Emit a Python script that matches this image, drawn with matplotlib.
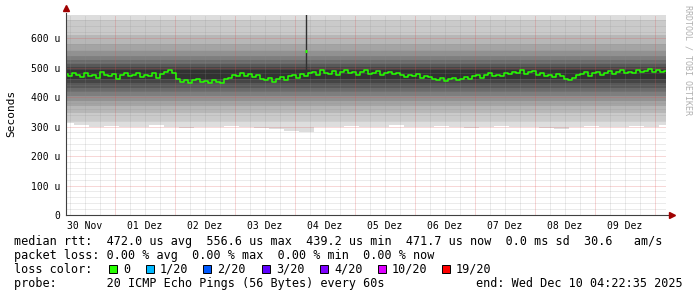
import numpy as np
import matplotlib
matplotlib.use("Agg")
import matplotlib.pyplot as plt
from matplotlib.patches import Rectangle
from datetime import datetime

# ---------------- data ----------------
start = datetime(2025, 11, 30, 4, 22, 35)
end = datetime(2025, 12, 10, 4, 22, 35)
first_midnight = datetime(2025, 12, 1, 0, 0, 0)

day_labels = ["30 Nov", "01 Dez", "02 Dez", "03 Dez", "04 Dez",
              "05 Dez", "06 Dez", "07 Dez", "08 Dez", "09 Dez"]

y_tick_values = [0, 100, 200, 300, 400, 500, 600]
y_tick_labels = ["0", "100 u", "200 u", "300 u", "400 u", "500 u", "600 u"]

# median rtt (microseconds), one sample every 1.6 h
median_step_h = 1.6
median_us = [
    478, 470, 482, 474, 468, 480, 472, 476, 466, 484, 474, 470, 478, 462, 476,
    480, 470, 474, 482, 468, 476, 472, 480, 466, 478,
    486, 490, 482,
    462, 452, 458, 448, 456, 462, 450, 454, 446, 458, 452, 448, 460,
    466, 474, 470, 480, 472, 478, 468, 476,
    462, 456, 466, 452, 460, 468, 458, 470,
    474, 466, 478, 470,
    480, 486, 476, 490, 482, 478, 488, 474, 484, 492, 480, 486, 476, 484, 490,
    478, 482, 488, 474, 480, 486, 478, 482,
    476, 468, 474, 470, 478, 466, 472, 468,
    462, 458, 466, 454, 460, 464, 456, 462, 468, 460,
    470, 476, 466, 474, 480, 470, 476, 472, 482, 478,
    486, 480, 490, 478, 484, 488, 476,
    480, 472, 476, 468, 478, 470, 462, 458, 466, 474,
    478, 484, 472, 480, 486, 476, 482, 488, 478, 484, 490, 480, 486, 482, 492,
    484, 488, 494, 486, 490, 484, 488,
]

# smoke: lowest ping per 6 h, and typical ping levels (ranks) above / below
smoke_step_h = 6
smoke_min_us = [312, 305, 300, 302, 298, 300, 304, 300, 296, 300, 298, 302, 300,
                296, 292, 286, 280, 298, 300, 302, 298, 300, 304, 300, 298, 302,
                300, 296, 300, 302, 298, 300, 296, 290, 300, 302, 298, 300, 302,
                300, 304]
smoke_upper_us = [900, 660, 610, 578, 556, 538, 524, 512, 501, 490]
smoke_lower_us = [None, 320, 345, 368, 388, 404, 418, 432, 446, 460]

# single spike event
spike_time = datetime(2025, 12, 4, 4, 20, 0)
spike_median_us = 556.6
spike_low_us = 470
spike_high_us = 700

loss_labels = ["0", "1/20", "2/20", "3/20", "4/20", "10/20", "19/20"]
loss_colors = ["#26ff00", "#00b8ff", "#0059ff", "#5e00ff", "#7e00ff", "#dd00ff", "#ff0000"]

line_median = "median rtt:  472.0 us avg  556.6 us max  439.2 us min  471.7 us now  0.0 ms sd  30.6   am/s"
line_loss = "packet loss: 0.00 % avg  0.00 % max  0.00 % min  0.00 % now"
line_probe_left = "probe:       20 ICMP Echo Pings (56 Bytes) every 60s"
line_probe_right = "end: Wed Dec 10 04:22:35 2025"

# ---------------- layout ----------------
W, H = 697, 297
MONO = "DejaVu Sans Mono"

def fx(x):
    return x / W

def fy(y):
    return 1 - y / H

def hours(dt):
    return (dt - start).total_seconds() / 3600.0

span_h = hours(end)
mid0 = hours(first_midnight)

fig = plt.figure(figsize=(W / 100, H / 100), dpi=100)
fig.patch.set_facecolor("white")
ax = fig.add_axes([fx(66), fy(215), 600 / W, 200 / H])
ax.set_xlim(0, span_h)
ax.set_ylim(0, 678)
ax.set_facecolor("white")
for s in ax.spines.values():
    s.set_visible(False)

# smoke
t_smoke = np.arange(len(smoke_min_us)) * smoke_step_h
n_layers = len(smoke_upper_us)
for k in range(n_layers):
    g = int(190 / n_layers * (n_layers - 1 - k)) + 50
    col = "#%02x%02x%02x" % (g, g, g)
    lo = smoke_min_us if smoke_lower_us[k] is None else np.full(len(t_smoke), smoke_lower_us[k])
    hi = np.full(len(t_smoke), smoke_upper_us[k])
    ax.fill_between(t_smoke, lo, hi, step="mid", color=col, lw=0, zorder=1)

# grid
minor_c = (0.56, 0.56, 0.56, 0.35)
major_c = (0.87, 0.31, 0.31, 0.45)
dots = (0, (1, 1))
for v in np.arange(0, 678, 20):
    if v % 100 == 0:
        continue
    ax.axhline(v, color=minor_c, lw=0.72, ls=dots, zorder=2)
for v in y_tick_values[1:]:
    ax.axhline(v, color=major_c, lw=0.72, ls=dots, zorder=3)
for v in np.arange(mid0 - 24, span_h, 6):
    if v <= 0:
        continue
    if abs(((v - mid0) / 24) - round((v - mid0) / 24)) < 1e-6:
        ax.axvline(v, color=major_c, lw=0.72, ls=dots, zorder=3)
    else:
        ax.axvline(v, color=minor_c, lw=0.72, ls=dots, zorder=2)

# spike
sh = hours(spike_time)
ax.plot([sh, sh], [spike_low_us, spike_high_us], color="#303030", lw=1.0, zorder=4)

# median
t_med = np.arange(len(median_us)) * median_step_h
ax.step(t_med, median_us, where="mid", color="#26ff00", lw=1.1, zorder=5)
ax.plot([sh - 0.4, sh + 0.4], [spike_median_us, spike_median_us], color="#26ff00", lw=2.2,
        solid_capstyle="butt", zorder=6)

# ticks and labels
ax.set_yticks(y_tick_values)
ax.set_yticklabels(y_tick_labels, fontfamily=MONO, fontsize=7)
noon = [mid0 - 12 + 24 * i for i in range(len(day_labels))]
ax.set_xticks(noon)
ax.set_xticklabels(day_labels, fontfamily=MONO, fontsize=7)
ax.tick_params(axis="y", length=0, pad=3.8)
ax.tick_params(axis="x", length=0, pad=4.5)

# axes lines with arrows
axis_col = "#404040"
arrow_col = "#a00000"
ax.plot([0, 0], [0, 1.01], transform=ax.transAxes, color=axis_col, lw=0.8, clip_on=False, zorder=7)
ax.plot([0, 1.006], [0, 0], transform=ax.transAxes, color=axis_col, lw=0.8, clip_on=False, zorder=7)
ax.plot([0], [1.035], transform=ax.transAxes, marker="^", ms=4, color=arrow_col, mec=arrow_col,
        clip_on=False, zorder=8)
ax.plot([1.0095], [0], transform=ax.transAxes, marker=">", ms=4, color=arrow_col, mec=arrow_col,
        clip_on=False, zorder=8)

fig.text(fx(11), fy(113), "Seconds", rotation=90, ha="center", va="center",
         fontfamily=MONO, fontsize=8)
fig.text(fx(688), fy(60), "RRDTOOL / TOBI OETIKER", rotation=270, ha="center", va="center",
         fontfamily=MONO, fontsize=6, color="#b0b0b0")

# legend text
fs = 8.5
fig.text(fx(14.5), fy(241.5), line_median, ha="left", va="center", fontfamily=MONO, fontsize=fs)
fig.text(fx(14.5), fy(255.5), line_loss, ha="left", va="center", fontfamily=MONO, fontsize=fs)
fig.text(fx(14.5), fy(269.5), "loss color:", ha="left", va="center", fontfamily=MONO, fontsize=fs)
fig.text(fx(14.5), fy(283.5), line_probe_left, ha="left", va="center", fontfamily=MONO, fontsize=fs)
fig.text(fx(476), fy(283.5), line_probe_right, ha="left", va="center", fontfamily=MONO, fontsize=fs)

box_x = [109, 146, 203, 262, 320, 378, 442]
for bx, lab, c in zip(box_x, loss_labels, loss_colors):
    fig.patches.append(Rectangle((fx(bx), fy(273)), 8 / W, 8 / H, transform=fig.transFigure,
                                 facecolor=c, edgecolor="black", lw=0.7))
    fig.text(fx(bx + 14), fy(269.5), lab, ha="left", va="center", fontfamily=MONO, fontsize=fs)

fig.savefig("out.png", dpi=100, facecolor="white")
